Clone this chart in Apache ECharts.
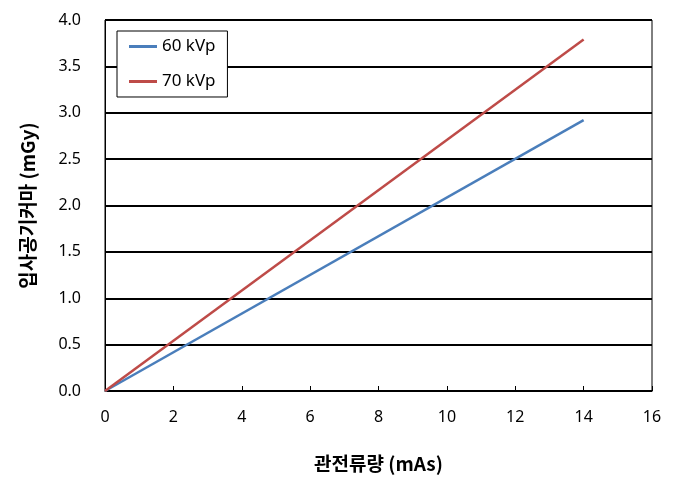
<!DOCTYPE html>
<html>
<head>
<meta charset="utf-8">
<script src="https://cdn.jsdelivr.net/npm/echarts@6/dist/echarts.min.js"></script>
<style>
html,body{margin:0;padding:0;background:#fff;}
#chart{width:681px;height:485px;}
</style>
</head>
<body>
<div id="chart"></div>
<script>
const seriesNames = ['60 kVp', '70 kVp'];
const mAs60 = [0, 14];
const dose60 = [0, 2.92];
const mAs70 = [0, 14];
const dose70 = [0, 3.79];
const xTicks = [0, 2, 4, 6, 8, 10, 12, 14, 16];
const yTicks = [0, 0.5, 1, 1.5, 2, 2.5, 3, 3.5, 4];
const xTitle = '관전류량 (mAs)';
const yTitle = '입사공기커마 (mGy)';

const font = '"Noto Sans", "Noto Sans CJK KR", sans-serif';
const chart = echarts.init(document.getElementById('chart'));
chart.setOption({
  animation: false,
  backgroundColor: '#fff',
  grid: {left: 105, top: 20, right: 29, bottom: 94, show: true, borderColor: '#000', borderWidth: 1},
  legend: {
    orient: 'vertical', left: 117, top: 31,
    data: seriesNames,
    icon: 'rect', itemWidth: 28, itemHeight: 3, itemGap: 18,
    textStyle: {fontFamily: font, fontSize: 17, color: '#000'},
    backgroundColor: '#fff', borderColor: '#000', borderWidth: 1,
    padding: [7, 12, 7, 12]
  },
  xAxis: {
    type: 'value', min: xTicks[0], max: xTicks[xTicks.length - 1], interval: 2,
    name: xTitle, nameLocation: 'middle', nameGap: 63,
    nameTextStyle: {fontFamily: '"Noto Sans CJK KR", sans-serif', fontSize: 19, fontWeight: 'bold', color: '#000'},
    axisLine: {lineStyle: {color: '#000', width: 1}},
    axisTick: {inside: true, length: 5, lineStyle: {color: '#000'}},
    axisLabel: {fontFamily: font, fontSize: 16, color: '#000', margin: 18},
    splitLine: {show: false}
  },
  yAxis: {
    type: 'value', min: yTicks[0], max: yTicks[yTicks.length - 1], interval: 0.5,
    name: yTitle, nameLocation: 'middle', nameGap: 68, nameRotate: 90,
    nameTextStyle: {fontFamily: '"Noto Sans CJK KR", sans-serif', fontSize: 19, fontWeight: 'bold', color: '#000'},
    axisLine: {show: true, lineStyle: {color: '#000', width: 1}},
    axisTick: {show: false},
    axisLabel: {fontFamily: font, fontSize: 16, color: '#000', margin: 24, formatter: v => v.toFixed(1)},
    splitLine: {show: true, lineStyle: {color: '#000', width: 2}}
  },
  series: [
    {name: seriesNames[0], type: 'line', showSymbol: false, symbol: 'none',
     data: mAs60.map((x, i) => [x, dose60[i]]),
     lineStyle: {color: '#4A7EBB', width: 2.5}, itemStyle: {color: '#4A7EBB'}},
    {name: seriesNames[1], type: 'line', showSymbol: false, symbol: 'none',
     data: mAs70.map((x, i) => [x, dose70[i]]),
     lineStyle: {color: '#BE4B48', width: 2.5}, itemStyle: {color: '#BE4B48'}}
  ]
});
</script>
</body>
</html>
